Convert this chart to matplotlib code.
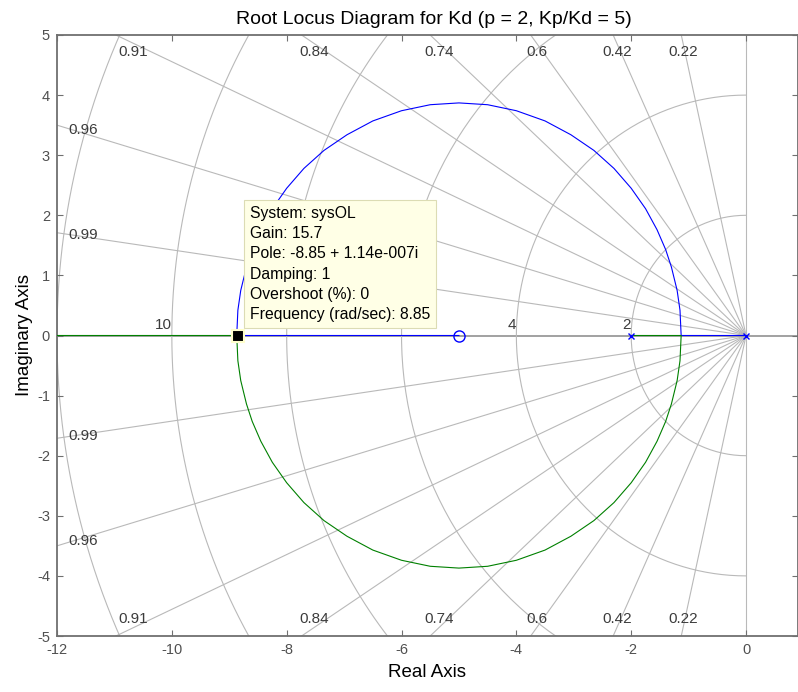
import numpy as np
import matplotlib
matplotlib.use('Agg')
import matplotlib.pyplot as plt

plt.rcParams['font.family'] = ['Liberation Sans', 'DejaVu Sans']
plt.rcParams['axes.unicode_minus'] = False

# open loop poles / zeros
pole_re = [0.0, -2.0]
zero_re = [-5.0]

# arc of the locus (upper half)
arc_re = [-1.13, -1.15, -1.20, -1.30, -1.40, -1.55, -1.75, -2.00, -2.30, -2.65, -3.05,
          -3.50, -4.00, -4.50, -5.00, -5.50, -6.00, -6.50, -6.95, -7.35, -7.70, -8.00,
          -8.25, -8.45, -8.60, -8.70, -8.80, -8.85, -8.87]
arc_im = [0.0, 0.42, 0.75, 1.14, 1.43, 1.76, 2.11, 2.45, 2.78, 3.08, 3.34,
          3.57, 3.74, 3.84, 3.87, 3.84, 3.74, 3.57, 3.34, 3.08, 2.78, 2.45,
          2.11, 1.76, 1.43, 1.14, 0.75, 0.42, 0.0]

# branch 1 (blue): pole 0 -> breakaway -> upper arc -> break-in -> zero -5
blue_re = [0.0] + arc_re + [-5.0]
blue_im = [0.0] + arc_im + [0.0]
# branch 2 (green): pole -2 -> breakaway -> lower arc (conjugate) -> break-in -> -inf
green_re = [-2.0] + arc_re + [-12.0]
green_im = [0.0] + [-v for v in arc_im] + [0.0]

# sgrid
zeta_top = [0.91, 0.84, 0.74, 0.6, 0.42, 0.22]
zeta_left = [0.99, 0.96]
wn_circles = [2, 4, 6, 8, 10, 12]
wn_labels = [2, 4, 6, 8, 10]

# data tip
tip_re, tip_im = -8.85, 0.0
tip_text = ('System: sysOL\nGain: 15.7\nPole: -8.85 + 1.14e-007i\nDamping: 1\n'
            'Overshoot (%): 0\nFrequency (rad/sec): 8.85')

W, H = 798, 692
fig = plt.figure(figsize=(W / 100, H / 100), dpi=100)
ax = fig.add_axes([57 / W, 56 / H, (W - 57) / W, (636 - 35) / H])
ax.set_xlim(-12, 0.905)
ax.set_ylim(-5, 5)

grid_c = '#b9b9b9'
lab_c = '#3c3c3c'
R = 30
for z in zeta_top + zeta_left:
    s = np.sqrt(1 - z ** 2)
    ax.plot([0, -R * z], [0, R * s], color=grid_c, lw=0.8, zorder=1)
    ax.plot([0, -R * z], [0, -R * s], color=grid_c, lw=0.8, zorder=1)
ax.plot([0, 0], [-R, R], color=grid_c, lw=0.8, zorder=1)
ax.plot([-R, R], [0, 0], color='#9a9a9a', lw=1.3, zorder=1)

th = np.linspace(np.pi / 2, 3 * np.pi / 2, 181)
for r in wn_circles:
    ax.plot(r * np.cos(th), r * np.sin(th), color=grid_c, lw=0.8, zorder=1)
for r in wn_labels:
    ax.text(-r, 0.05, str(r), ha='right', va='bottom', fontsize=11, color=lab_c, zorder=2)

for z in zeta_top:
    cot = z / np.sqrt(1 - z ** 2)
    for sgn in (1, -1):
        ax.text(-4.86 * cot, sgn * 4.72, '%g' % z, ha='center', va='center',
                fontsize=11, color=lab_c, zorder=2)
for z in zeta_left:
    cot = z / np.sqrt(1 - z ** 2)
    for sgn in (1, -1):
        ax.text(-11.55, sgn * 11.7 / cot, '%g' % z, ha='center', va='center',
                fontsize=11, color=lab_c, zorder=2)

# locus
ax.plot(blue_re, blue_im, color='#0000ff', lw=0.8, zorder=3)
ax.plot(green_re, green_im, color='#008000', lw=0.8, zorder=3)
ax.plot(pole_re, [0] * len(pole_re), 'x', color='#0000ff', ms=5, mew=1, zorder=4)
ax.plot(zero_re, [0] * len(zero_re), 'o', mfc='none', mec='#0000ff', ms=8, mew=1, zorder=4)

# data tip
ax.plot([tip_re], [tip_im], 's', mfc='black', mec='#ffffcc', ms=8.5, mew=1.5, zorder=6)
ax.annotate(tip_text, xy=(tip_re, tip_im), xytext=(8.5, 9.5), textcoords='offset points',
            ha='left', va='bottom', fontsize=11.3, linespacing=1.44, color='black', zorder=5,
            bbox=dict(boxstyle='square,pad=0.38', fc='#ffffe6', ec='#dcdcb4', lw=0.8))

ax.set_xticks(np.arange(-12, 1, 2))
ax.set_yticks(np.arange(-5, 6, 1))
ax.tick_params(direction='in', length=4, width=0.8, color='#707070', labelcolor='#505050',
               labelsize=10.5, top=True, right=True, pad=5)
for sp in ax.spines.values():
    sp.set_color('#707070')
    sp.set_linewidth(1.3)

ax.set_title('Root Locus Diagram for Kd (p = 2, Kp/Kd = 5)', fontsize=14, pad=8, x=0.509)
ax.set_xlabel('Real Axis', fontsize=13.5, labelpad=5)
ax.set_ylabel('Imaginary Axis', fontsize=13.5, labelpad=3)

fig.savefig('out.png', dpi=100)
